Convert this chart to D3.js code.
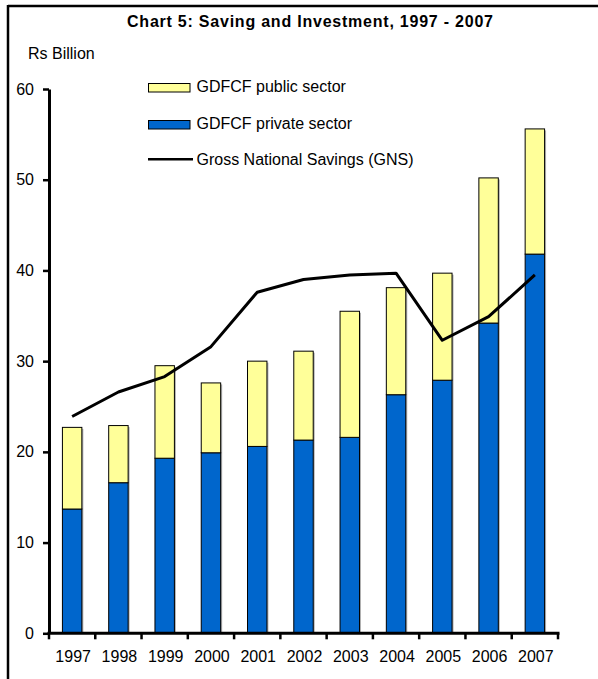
<!DOCTYPE html>
<html>
<head>
<meta charset="utf-8">
<script src="https://cdn.jsdelivr.net/npm/d3@7"></script>
<style>
  html, body { margin: 0; padding: 0; background: #fff; }
  svg { display: block; font-family: "Liberation Sans", Arial, sans-serif; }
</style>
</head>
<body>
<svg id="chart" width="598" height="679"></svg>
<script>
const years = ["1997","1998","1999","2000","2001","2002","2003","2004","2005","2006","2007"];
const privateSector = [13.7, 16.6, 19.3, 19.9, 20.6, 21.3, 21.6, 26.3, 27.9, 34.2, 41.8];
const publicSector  = [9.0, 6.3, 10.2, 7.7, 9.4, 9.8, 13.9, 11.8, 11.8, 16.0, 13.8];
const gns           = [23.9, 26.6, 28.3, 31.6, 37.6, 39.0, 39.5, 39.7, 32.3, 34.9, 39.5];
const yTicks = [0, 10, 20, 30, 40, 50, 60];
const seriesNames = ["GDFCF public sector", "GDFCF private sector", "Gross National Savings (GNS)"];
const colors = { pub: "#FFFF99", priv: "#0066CC", line: "#000000" };

const svg = d3.select("#chart");

// frame (top and left visible)
svg.append("line").attr("x1", 8).attr("x2", 598).attr("y1", 6).attr("y2", 6)
  .attr("stroke", "#000").attr("stroke-width", 2.5);
svg.append("line").attr("x1", 8).attr("x2", 8).attr("y1", 5).attr("y2", 679)
  .attr("stroke", "#000").attr("stroke-width", 2.5);

// title
svg.append("text").attr("x", 127).attr("y", 27)
  .attr("font-size", 16).attr("font-weight", "bold")
  .attr("textLength", 366).attr("lengthAdjust", "spacing")
  .text("Chart 5: Saving and Investment, 1997 - 2007");

svg.append("text").attr("x", 28).attr("y", 58.5).attr("font-size", 16)
  .text("Rs Billion");

const x = d3.scaleBand().domain(years).range([49, 558])
  .paddingInner(0.58).paddingOuter(0.29);
const y = d3.scaleLinear().domain([0, 60]).range([633.3, 89]);

const data = years.map((yr, i) => ({
  year: yr, priv: privateSector[i], pub: publicSector[i], gns: gns[i]
}));

const bars = svg.append("g");
// shadows
bars.selectAll("rect.shadow").data(data).join("rect")
  .attr("class", "shadow")
  .attr("x", d => x(d.year) + 1.5)
  .attr("y", d => y(d.priv + d.pub) + 1.5)
  .attr("width", x.bandwidth())
  .attr("height", d => y(0) - y(d.priv + d.pub) - 1.5)
  .attr("fill", "#b0b0b0");
bars.selectAll("rect.priv").data(data).join("rect")
  .attr("class", "priv")
  .attr("x", d => x(d.year))
  .attr("y", d => y(d.priv))
  .attr("width", x.bandwidth())
  .attr("height", d => y(0) - y(d.priv))
  .attr("fill", colors.priv).attr("stroke", "#000").attr("stroke-width", 1);
bars.selectAll("rect.pub").data(data).join("rect")
  .attr("class", "pub")
  .attr("x", d => x(d.year))
  .attr("y", d => y(d.priv + d.pub))
  .attr("width", x.bandwidth())
  .attr("height", d => y(d.priv) - y(d.priv + d.pub))
  .attr("fill", colors.pub).attr("stroke", "#000").attr("stroke-width", 1);

// GNS line
const line = d3.line()
  .x(d => x(d.year) + x.bandwidth() / 2)
  .y(d => y(d.gns));
svg.append("path").datum(data).attr("d", line)
  .attr("fill", "none").attr("stroke", colors.line).attr("stroke-width", 3)
  .attr("stroke-linejoin", "round");

// Y axis
const yAxis = d3.axisLeft(y).tickValues(yTicks).tickSize(6).tickPadding(9).tickSizeOuter(0);
const gy = svg.append("g").attr("transform", "translate(49,0)").call(yAxis);
gy.select(".domain").attr("stroke", "#000").attr("stroke-width", 3);
gy.selectAll(".tick line").attr("stroke", "#000").attr("stroke-width", 2.5);
gy.selectAll(".tick text").attr("font-size", 16).attr("fill", "#000")
  .attr("font-family", "Liberation Sans, Arial, sans-serif");

// X axis
const step = x.step();
const xEdges = d3.range(years.length + 1).map(i => 49 + i * step);
const xb = svg.append("g");
xb.append("line").attr("x1", 47.5).attr("x2", 559.5).attr("y1", y(0)).attr("y2", y(0))
  .attr("stroke", "#000").attr("stroke-width", 3);
xb.selectAll("line.tick").data(xEdges).join("line")
  .attr("class", "tick")
  .attr("x1", d => d).attr("x2", d => d)
  .attr("y1", y(0)).attr("y2", y(0) + 6)
  .attr("stroke", "#000").attr("stroke-width", 2.5);
xb.selectAll("text").data(years).join("text")
  .attr("x", d => x(d) + x.bandwidth() / 2 + 1)
  .attr("y", 661.5)
  .attr("text-anchor", "middle").attr("font-size", 16)
  .text(d => d);

// legend
const lg = svg.append("g");
lg.append("rect").attr("x", 148.5).attr("y", 83.5).attr("width", 41.5).attr("height", 8.5)
  .attr("fill", colors.pub).attr("stroke", "#000").attr("stroke-width", 1);
lg.append("text").attr("x", 196.5).attr("y", 92).attr("font-size", 16).text(seriesNames[0]);
lg.append("rect").attr("x", 148.5).attr("y", 120.5).attr("width", 41.5).attr("height", 8.5)
  .attr("fill", colors.priv).attr("stroke", "#000").attr("stroke-width", 1);
lg.append("text").attr("x", 196.5).attr("y", 129).attr("font-size", 16).text(seriesNames[1]);
lg.append("line").attr("x1", 148).attr("x2", 193).attr("y1", 159.3).attr("y2", 159.3)
  .attr("stroke", "#000").attr("stroke-width", 2.5);
lg.append("text").attr("x", 196.5).attr("y", 164.5).attr("font-size", 16).text(seriesNames[2]);
</script>
</body>
</html>
